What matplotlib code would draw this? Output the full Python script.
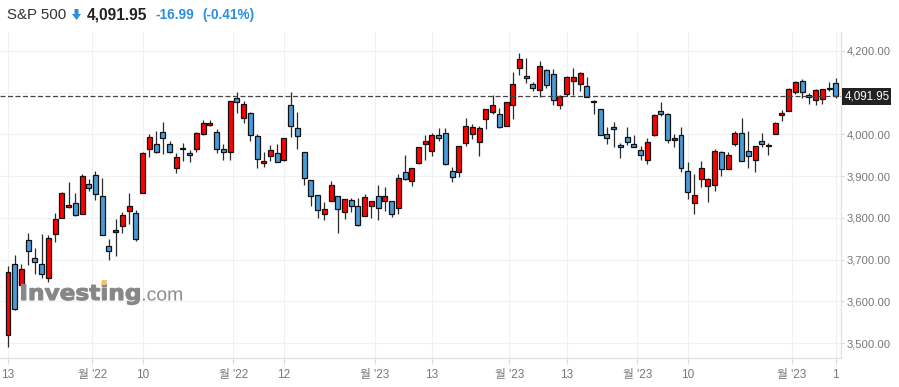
import matplotlib
matplotlib.use('Agg')
import matplotlib.pyplot as plt
import numpy as np
from matplotlib.textpath import TextPath
from matplotlib.font_manager import FontProperties
from matplotlib.patches import PathPatch, Polygon, Rectangle
from matplotlib.transforms import Affine2D, IdentityTransform

# ---------------- data ----------------
dates = ["2022-10-13","2022-10-14","2022-10-17","2022-10-18","2022-10-19","2022-10-20","2022-10-21",
         "2022-10-24","2022-10-25","2022-10-26","2022-10-27","2022-10-28","2022-10-31",
         "2022-11-01","2022-11-02","2022-11-03","2022-11-04","2022-11-07","2022-11-08","2022-11-09",
         "2022-11-10","2022-11-11","2022-11-14","2022-11-15","2022-11-16","2022-11-17","2022-11-18",
         "2022-11-21","2022-11-22","2022-11-23","2022-11-25","2022-11-28","2022-11-29","2022-11-30",
         "2022-12-01","2022-12-02","2022-12-05","2022-12-06","2022-12-07","2022-12-08","2022-12-09",
         "2022-12-12","2022-12-13","2022-12-14","2022-12-15","2022-12-16","2022-12-19","2022-12-20",
         "2022-12-21","2022-12-22","2022-12-23","2022-12-27","2022-12-28","2022-12-29","2022-12-30",
         "2023-01-03","2023-01-04","2023-01-05","2023-01-06","2023-01-09","2023-01-10","2023-01-11",
         "2023-01-12","2023-01-13","2023-01-17","2023-01-18","2023-01-19","2023-01-20","2023-01-23",
         "2023-01-24","2023-01-25","2023-01-26","2023-01-27","2023-01-30","2023-01-31",
         "2023-02-01","2023-02-02","2023-02-03","2023-02-06","2023-02-07","2023-02-08","2023-02-09",
         "2023-02-10","2023-02-13","2023-02-14","2023-02-15","2023-02-16","2023-02-17","2023-02-21",
         "2023-02-22","2023-02-23","2023-02-24","2023-02-27","2023-02-28",
         "2023-03-01","2023-03-02","2023-03-03","2023-03-06","2023-03-07","2023-03-08","2023-03-09",
         "2023-03-10","2023-03-13","2023-03-14","2023-03-15","2023-03-16","2023-03-17","2023-03-20",
         "2023-03-21","2023-03-22","2023-03-23","2023-03-24","2023-03-27","2023-03-28","2023-03-29",
         "2023-03-30","2023-03-31","2023-04-03","2023-04-04","2023-04-05","2023-04-06","2023-04-10",
         "2023-04-11","2023-04-12"]

opens = [3520.37,3690.41,3638.65,3746.26,3703.11,3689.05,3657.10,3762.01,3799.44,3825.97,3834.69,3808.26,3881.85,
         3901.79,3852.90,3733.25,3766.98,3780.71,3817.02,3810.94,3859.89,3963.72,3977.97,4006.41,3976.82,3919.26,3966.39,
         3956.23,3965.51,4000.30,4023.34,4005.36,3964.19,3957.18,
         4087.14,4040.17,4052.02,3996.63,3933.28,3947.79,3954.17,3939.29,4069.38,4015.54,3958.37,3890.91,3853.79,3810.47,
         3839.49,3853.26,3815.11,3843.34,3829.56,3805.45,3829.06,
         3853.29,3840.36,3839.74,3823.37,3910.82,3888.57,3932.35,3977.57,3960.60,3999.28,4002.25,3911.84,3909.04,3978.14,
         4001.74,3982.71,4036.08,4053.72,4049.27,4020.85,
         4070.07,4158.68,4136.69,4119.57,4105.70,4153.47,4144.25,4068.92,4096.62,4126.70,4119.50,4114.75,4077.39,4060.79,
         4001.83,4018.60,3973.24,3992.36,3977.19,
         3963.34,3938.68,3998.02,4055.15,4048.26,3987.55,3998.66,3912.77,3835.12,3894.01,3876.74,3878.93,3958.69,3917.47,
         3975.89,4002.04,3959.21,3939.21,3982.93,3974.13,3999.53,4046.74,4056.18,
         4102.20,4128.03,4094.50,4081.15,4085.20,4110.29,4121.72]

highs = [3685.41,3712.00,3689.73,3762.79,3728.58,3762.27,3757.89,3810.74,3862.85,3886.15,3859.95,3905.42,3893.73,
         3911.79,3894.44,3750.59,3796.34,3813.95,3859.40,3818.20,3958.33,4001.48,4008.97,4028.84,3983.09,3954.33,3979.89,
         3962.00,4005.88,4033.78,4034.02,4012.27,3976.77,4080.11,
         4100.51,4080.48,4052.45,4001.51,3957.57,3974.19,3977.02,3990.71,4100.96,4053.76,3958.37,3890.91,3854.86,3838.24,
         3889.28,3853.26,3845.80,3846.65,3848.32,3858.19,3839.85,
         3878.46,3873.16,3839.74,3906.19,3950.57,3919.83,3970.07,3997.76,4003.95,4015.39,4014.16,3922.94,3972.96,4039.31,
         4023.92,4019.55,4061.57,4094.21,4063.85,4077.16,
         4148.95,4195.44,4182.36,4124.63,4176.54,4156.85,4156.23,4094.36,4138.90,4159.77,4148.11,4136.54,4081.51,4060.79,
         4017.37,4028.30,3978.25,4018.05,3997.50,
         3971.73,3990.84,4048.29,4078.49,4050.00,4000.41,4017.81,3934.05,3905.05,3937.29,3894.26,3964.46,3958.91,3956.62,
         4009.08,4039.49,4007.66,3972.74,4003.83,3979.20,4030.59,4057.85,4110.75,
         4127.66,4133.13,4099.69,4107.32,4109.50,4124.26,4134.37]

lows = [3491.58,3579.68,3638.65,3686.53,3666.51,3656.86,3647.42,3741.65,3799.44,3824.07,3803.79,3808.26,3863.18,
        3843.80,3758.68,3698.15,3708.84,3764.70,3786.28,3744.22,3859.89,3944.82,3956.40,3953.17,3954.34,3906.54,3935.98,
        3933.34,3956.88,3998.66,4020.76,3955.77,3937.65,3938.58,
        4050.87,4026.63,3984.49,3918.39,3922.68,3935.83,3933.04,3935.30,3993.03,3965.65,3879.45,3827.91,3800.04,3795.62,
        3839.49,3764.49,3797.01,3813.22,3780.78,3805.45,3800.34,
        3794.33,3815.77,3802.42,3809.56,3890.42,3877.29,3928.54,3937.56,3947.67,3984.57,3926.59,3885.54,3897.86,3971.64,
        3989.79,3949.06,4013.29,4048.70,4015.55,4020.44,
        4037.20,4141.88,4123.36,4103.98,4088.39,4111.67,4069.67,4060.79,4092.67,4095.01,4103.98,4089.49,4047.95,3997.25,
        3976.90,3969.19,3943.08,3973.55,3968.98,
        3939.05,3928.16,3995.17,4044.61,3980.31,3969.76,3908.70,3846.32,3808.86,3873.63,3838.24,3864.11,3901.27,3916.89,
        3971.19,3936.17,3919.05,3909.16,3970.47,3951.53,3999.53,4032.10,4056.18,
        4097.56,4086.87,4072.56,4069.84,4072.55,4102.61,4086.94]

closes = [3669.91,3583.07,3677.95,3719.98,3695.16,3665.78,3752.75,3797.34,3859.11,3830.60,3807.30,3901.06,3871.98,
          3856.10,3759.69,3719.89,3770.55,3806.80,3828.11,3748.57,3956.37,3992.93,3957.25,3991.73,3958.79,3946.56,3965.34,
          3949.94,4003.58,4027.26,4026.12,3963.94,3957.63,4080.11,
          4076.57,4071.70,3998.84,3941.26,3933.92,3963.51,3934.38,3990.56,4019.65,3995.32,3895.75,3852.36,3817.66,3821.62,
          3878.44,3822.39,3844.82,3829.25,3783.22,3849.28,3839.50,
          3824.14,3852.97,3808.10,3895.08,3892.09,3919.25,3969.61,3983.17,3999.09,3990.97,3928.86,3898.85,3972.61,4019.81,
          4016.95,4016.22,4060.43,4070.56,4017.77,4076.60,
          4119.21,4179.76,4136.48,4111.08,4164.00,4117.86,4081.50,4090.46,4137.29,4136.13,4147.60,4090.41,4079.09,3997.34,
          3991.05,4012.32,3970.04,3982.24,3970.15,
          3951.39,3981.35,4045.64,4048.42,3986.37,3992.01,3918.32,3861.59,3855.76,3919.29,3891.93,3960.28,3916.64,3951.57,
          4002.87,3936.97,3948.72,3970.99,3977.53,3971.27,4027.81,4050.83,4109.31,
          4124.51,4100.60,4090.38,4105.02,4109.11,4108.94,4091.95]

instrument = "S&P 500"
last_price = 4091.95
change = -16.99
change_pct = -0.41

tick_dates = ["2022-10-13","2022-11-01","2022-11-10","2022-12-01","2022-12-12","2023-01-03","2023-01-13",
              "2023-02-01","2023-02-13","2023-03-01","2023-03-10","2023-04-03","2023-04-12"]
tick_labels = ["13","월 '22","10","월 '22","12","월 '23","13","월 '23","13","월 '23","10","월 '23","1"]
y_ticks = [3500, 3600, 3700, 3800, 3900, 4000, 4100, 4200]
y_hidden = [4100]   # label covered by the last-price box

# ---------------- figure ----------------
W, H = 899, 387
plt.rcParams['font.family'] = ['Liberation Sans', 'Noto Sans CJK KR', 'DejaVu Sans']
fig = plt.figure(figsize=(W / 100, H / 100), dpi=100)
fig.patch.set_facecolor('white')

AX_L, AX_R, AX_T, AX_B = 0, 841, 32, 358
ax = fig.add_axes([AX_L / W, (H - AX_B) / H, (AX_R - AX_L) / W, (AX_B - AX_T) / H])
step = 6.73
first_px = 8
ax.set_xlim((AX_L - first_px) / step, (AX_R - first_px) / step)
ax.set_ylim(3464.7, 4244.8)

o = np.array(opens); h = np.array(highs); l = np.array(lows); c = np.array(closes)
x = np.arange(len(dates))
up = c >= o
body_col = np.where(up, '#ff0000', '#4a9bd9')
ax.vlines(x, l, h, color='#2a2a2a', lw=0.9, zorder=3)
minh = 3.6
lo_b = np.minimum(o, c)
hb = np.abs(c - o)
mid = (o + c) / 2
bottoms = np.where(hb < minh, mid - minh / 2, lo_b)
heights = np.maximum(hb, minh)
ax.bar(x, heights, bottom=bottoms, width=0.74, color=body_col, edgecolor='#111111',
       linewidth=0.9, zorder=4)

ax.axhline(last_price, color='#444444', lw=0.9, dashes=(4, 2), zorder=5)

# ticks
date_index = {d: i for i, d in enumerate(dates)}
tick_pos = [date_index[d] - (0.5 if "'" in lab else 0.0) for d, lab in zip(tick_dates, tick_labels)]
ax.set_xticks(tick_pos)
ax.set_xticklabels(tick_labels, fontsize=8.5, color='#777777')
ax.yaxis.tick_right()
ax.set_yticks(y_ticks)
ax.set_yticklabels(["" if v in y_hidden else f"{v:,.2f}" for v in y_ticks], fontsize=8.1, color='#777777')
ax.tick_params(axis='x', length=4, color='#d5d8de', pad=4)
ax.tick_params(axis='y', length=2.2, color='#d5d8de', pad=1.6)
ax.grid(True, color='#f1f1f3', lw=0.8, zorder=0)
for s in ['top', 'left']:
    ax.spines[s].set_visible(False)
for s in ['right', 'bottom']:
    ax.spines[s].set_color('#dde0e6')
    ax.spines[s].set_linewidth(0.9)

# price label box
fig.patches.append(Rectangle((842, H - 105), 49, 17, transform=IdentityTransform(),
                             facecolor='#222222', edgecolor='none', zorder=10))
fig.text(867 / W, (H - 96.5) / H, f"{last_price:,.2f}", color='white', fontsize=8.4,
         ha='center', va='center', zorder=11)

# header
fig.text(7 / W, (H - 15) / H, instrument, fontsize=10.8, color='#333333', ha='left', va='center')
blue = '#2a8fe0'
arrow = Polygon([(74.5, H - 9), (78.5, H - 9), (78.5, H - 14), (81, H - 14), (76.5, H - 20),
                 (72, H - 14), (74.5, H - 14)], closed=True, transform=IdentityTransform(),
                facecolor=blue, edgecolor='none')
fig.patches.append(arrow)
fig.text(87 / W, (H - 15) / H, f"{last_price:,.2f}", fontsize=11.2, fontweight='bold',
         color='#222222', ha='left', va='center')
fig.text(156 / W, (H - 15) / H, f"{change:.2f}", fontsize=9.8, fontweight='bold',
         color=blue, ha='left', va='center')
fig.text(202 / W, (H - 15) / H, f"({change_pct:.2f}%)", fontsize=9.8, fontweight='bold',
         color=blue, ha='left', va='center')

# watermark
def fitted_text(s, x0, x1, y_top, y_base, family, weight, color, edge_lw):
    fp = FontProperties(family=family, weight=weight)
    tp = TextPath((0, 0), s, size=100, prop=fp)
    ext = tp.get_extents()
    ref = "I" if s[0].isupper() else "x"
    cap = TextPath((0, 0), ref, size=100, prop=fp).get_extents().y1
    sx = (x1 - x0) / ext.width
    sy = (y_base - y_top) / cap
    tr = Affine2D().translate(-ext.x0, 0).scale(sx, sy).translate(x0, H - y_base)
    patch = PathPatch(tr.transform_path(tp), transform=IdentityTransform(),
                      facecolor=color, edgecolor=color if edge_lw > 0 else 'none',
                      linewidth=edge_lw, zorder=2)
    fig.patches.append(patch)

fitted_text("Investing", 21.5, 139.5, 284.5, 300, 'DejaVu Sans', 'bold', '#878787', 0.8)
fitted_text(".com", 143, 182, 290.5, 300.5, 'Liberation Sans', 'normal', '#8c8c8c', 0)
fig.patches.append(Polygon([(101, H - 285), (106, H - 285), (107, H - 280), (102, H - 280)],
                           closed=True, transform=IdentityTransform(), facecolor='#f7bd6a',
                           edgecolor='none', zorder=3))

fig.savefig('out.png', dpi=100)
